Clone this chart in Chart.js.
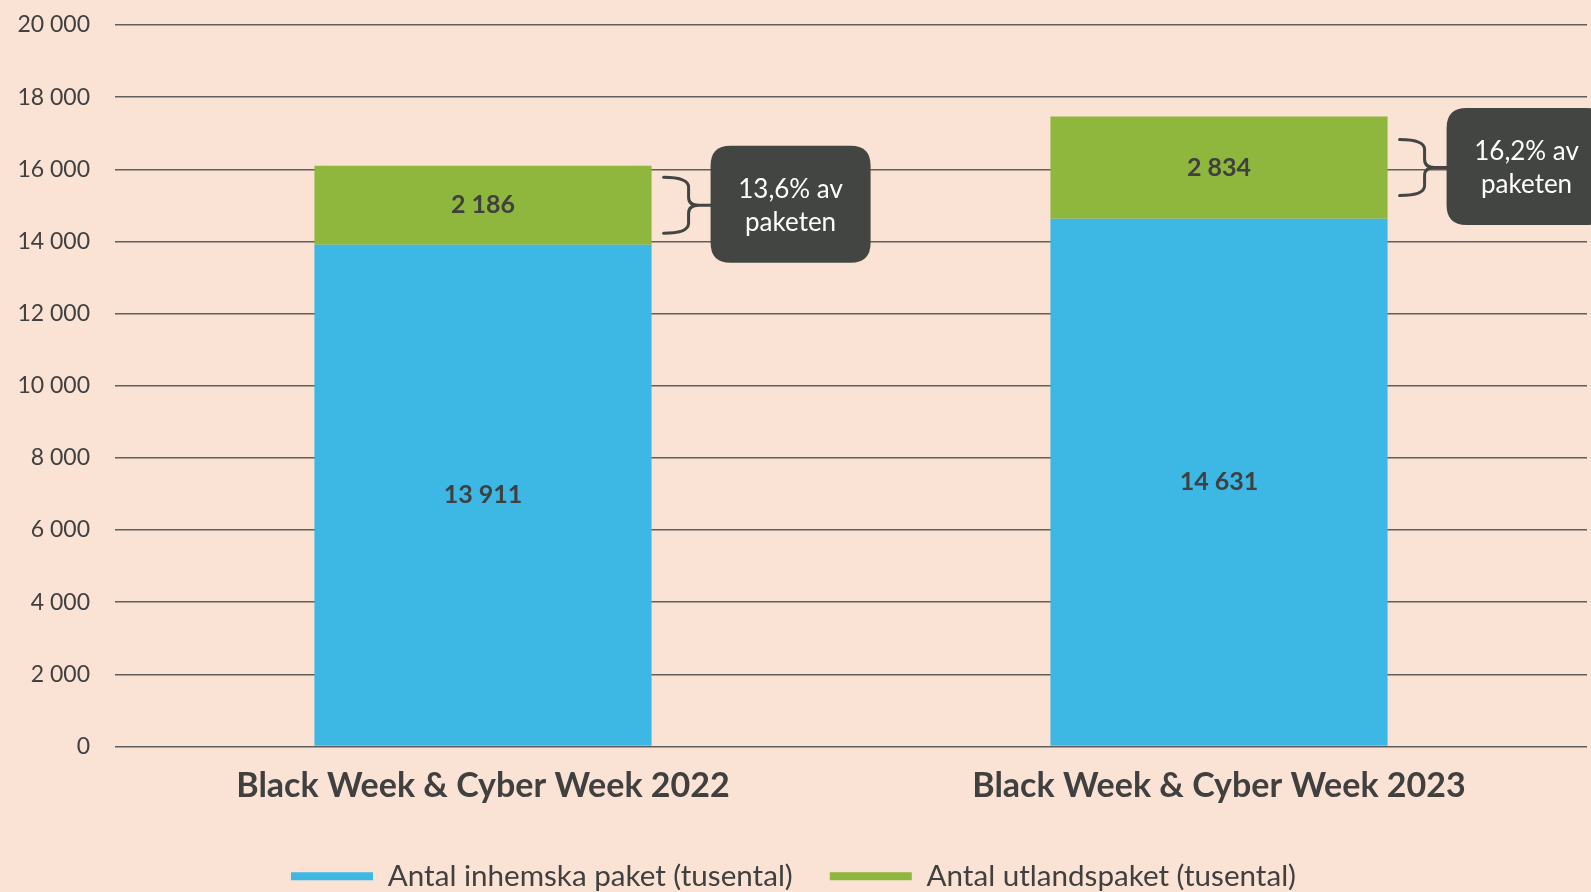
<!DOCTYPE html>
<html>
<head>
<meta charset="utf-8">
<script src="https://cdn.jsdelivr.net/npm/chart.js@4/dist/chart.umd.min.js"></script>
<style>
  html, body { margin: 0; padding: 0; background: #FAE2D4; }
  #wrap { width: 1591px; height: 892px; position: relative; }
</style>
</head>
<body>
<div id="wrap"><canvas id="c" width="1591" height="892"></canvas></div>
<script>
const categories = ['Black Week & Cyber Week 2022', 'Black Week & Cyber Week 2023'];
const domestic = [13911, 14631];
const international = [2186, 2834];
const seriesNames = ['Antal inhemska paket (tusental)', 'Antal utlandspaket (tusental)'];
const calloutLines = [['13,6% av', 'paketen'], ['16,2% av', 'paketen']];
const yTicks = [0, 2000, 4000, 6000, 8000, 10000, 12000, 14000, 16000, 18000, 20000];

const TEXT = '#404040';
const FONT = 'Lato, "Open Sans", sans-serif';
const fmt = v => String(Math.round(v)).replace(/\B(?=(\d{3})+(?!\d))/g, ' ');

const bgPlugin = {
  id: 'bg',
  beforeDraw(chart) {
    const ctx = chart.ctx;
    ctx.save();
    ctx.fillStyle = '#FAE2D4';
    ctx.fillRect(0, 0, chart.width, chart.height);
    ctx.restore();
  }
};

const labelPlugin = {
  id: 'barLabels',
  afterDatasetsDraw(chart) {
    const ctx = chart.ctx;
    ctx.save();
    ctx.font = 'bold 25px ' + FONT;
    ctx.fillStyle = TEXT;
    ctx.textAlign = 'center';
    ctx.textBaseline = 'middle';
    chart.data.datasets.forEach((ds, di) => {
      chart.getDatasetMeta(di).data.forEach((el, i) => {
        const p = el.getProps(['x', 'y', 'base'], true);
        ctx.fillText(fmt(ds.data[i]), p.x, (p.y + p.base) / 2);
      });
    });
    ctx.restore();
  }
};

function roundRect(ctx, x, y, w, h, r) {
  ctx.beginPath();
  ctx.moveTo(x + r, y);
  ctx.lineTo(x + w - r, y);
  ctx.quadraticCurveTo(x + w, y, x + w, y + r);
  ctx.lineTo(x + w, y + h - r);
  ctx.quadraticCurveTo(x + w, y + h, x + w - r, y + h);
  ctx.lineTo(x + r, y + h);
  ctx.quadraticCurveTo(x, y + h, x, y + h - r);
  ctx.lineTo(x, y + r);
  ctx.quadraticCurveTo(x, y, x + r, y);
  ctx.closePath();
}

const calloutPlugin = {
  id: 'callouts',
  afterDatasetsDraw(chart) {
    const ctx = chart.ctx;
    const meta = chart.getDatasetMeta(1);
    ctx.save();
    meta.data.forEach((el, i) => {
      const p = el.getProps(['x', 'y', 'base', 'width'], true);
      const right = p.x + p.width / 2;
      const cy = (p.y + p.base) / 2;
      const bx0 = right + 12;
      const vx = bx0 + 25;
      const boxL = right + 59;
      const top = cy - 28, bot = cy + 28;
      ctx.strokeStyle = '#434542';
      ctx.lineWidth = 3;
      ctx.lineCap = 'round';
      ctx.beginPath();
      ctx.moveTo(bx0, top);
      ctx.quadraticCurveTo(vx, top, vx, top + 10);
      ctx.lineTo(vx, cy - 8);
      ctx.quadraticCurveTo(vx, cy, vx + 10, cy);
      ctx.lineTo(boxL + 2, cy);
      ctx.moveTo(vx + 10, cy);
      ctx.quadraticCurveTo(vx, cy, vx, cy + 8);
      ctx.lineTo(vx, bot - 10);
      ctx.quadraticCurveTo(vx, bot, bx0, bot);
      ctx.stroke();
      const bw = 160, bh = 117;
      ctx.fillStyle = '#434542';
      roundRect(ctx, boxL, cy - bh / 2 - 1, bw, bh, 20);
      ctx.fill();
      ctx.fillStyle = '#FFFFFF';
      ctx.font = '26px ' + FONT;
      ctx.textAlign = 'center';
      ctx.textBaseline = 'middle';
      const lines = calloutLines[i];
      ctx.fillText(lines[0], boxL + bw / 2, cy - 16);
      ctx.fillText(lines[1], boxL + bw / 2, cy + 17);
    });
    ctx.restore();
  }
};

new Chart(document.getElementById('c'), {
  type: 'bar',
  data: {
    labels: categories,
    datasets: [
      { label: seriesNames[0], data: domestic, backgroundColor: '#3DB7E4', borderWidth: 0 },
      { label: seriesNames[1], data: international, backgroundColor: '#8FB63D', borderWidth: 0 }
    ]
  },
  options: {
    responsive: false,
    animation: false,
    devicePixelRatio: 1,
    layout: { padding: { top: 25, right: 4, left: 0, bottom: -9 } },
    datasets: { bar: { categoryPercentage: 0.9, barPercentage: 0.509 } },
    scales: {
      x: {
        stacked: true,
        grid: { display: false },
        border: { display: false },
        ticks: { color: TEXT, font: { family: FONT, size: 34, weight: 'bold' }, padding: 11 },
        afterFit(s) { s.height = 78; }
      },
      y: {
        stacked: true,
        min: 0, max: 20000,
        afterBuildTicks(s) { s.ticks = yTicks.map(v => ({ value: v })); },
        grid: { color: '#5E5E5E', lineWidth: 1.5, drawTicks: false },
        border: { display: false },
        ticks: { color: TEXT, font: { family: FONT, size: 23 }, padding: 25, callback: v => fmt(v) },
        afterFit(s) { s.width = 115; s.paddingTop = 0; s.paddingBottom = 0; }
      }
    },
    plugins: {
      legend: {
        position: 'bottom',
        labels: { color: TEXT, font: { family: FONT, size: 29.6 }, boxWidth: 82, boxHeight: 8, padding: 37 }
      },
      tooltip: { enabled: false }
    }
  },
  plugins: [bgPlugin, labelPlugin, calloutPlugin]
});
</script>
</body>
</html>
